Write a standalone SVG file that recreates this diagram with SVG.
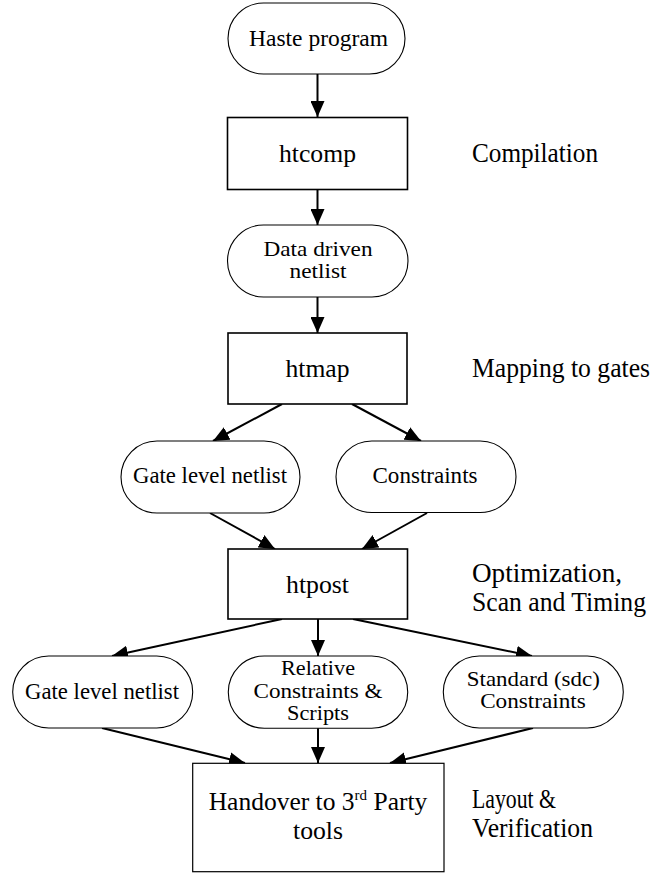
<svg xmlns="http://www.w3.org/2000/svg" width="665" height="873" viewBox="0 0 665 873">
<style>
  .bg { fill: #ffffff; }
  .stad { fill: #ffffff; stroke: #000000; stroke-width: 1.1; }
  .box { fill: #ffffff; stroke: #000000; stroke-width: 1.6; }
  .box2 { fill: #ffffff; stroke: #000000; stroke-width: 1.2; }
  .conn { stroke: #000000; stroke-width: 2; fill: none; marker-end: url(#arrow); }
  text { font-family: "Liberation Serif", Tinos, "Times New Roman", Times, "Nimbus Roman", "Noto Serif", "DejaVu Serif", serif; fill: #000000; }
  .t { font-size: 23px; text-anchor: middle; }
  .tm { font-size: 21px; text-anchor: middle; }
  .tb { font-size: 26px; text-anchor: middle; }
  .lbl { font-size: 28px; text-anchor: start; }
</style>
<defs>
  <marker id="arrow" viewBox="0 0 16 14" refX="16" refY="7" markerWidth="16" markerHeight="14" markerUnits="userSpaceOnUse" orient="auto">
    <path d="M0,0 L16,7 L0,14 z" fill="#000000"/>
  </marker>
</defs>
<rect class="bg" x="0" y="0" width="665" height="873"/>

<g id="connectors">
  <line class="conn" x1="317.5" y1="74" x2="317.5" y2="117"/>
  <line class="conn" x1="317.5" y1="189" x2="317.5" y2="225"/>
  <line class="conn" x1="317.5" y1="297" x2="317.5" y2="333"/>
  <line class="conn" x1="282" y1="404" x2="213" y2="441"/>
  <line class="conn" x1="352" y1="404" x2="421" y2="441"/>
  <line class="conn" x1="210" y1="513" x2="275" y2="549"/>
  <line class="conn" x1="427" y1="513" x2="362" y2="549"/>
  <line class="conn" x1="282" y1="619" x2="112" y2="656"/>
  <line class="conn" x1="318" y1="619" x2="318" y2="656"/>
  <line class="conn" x1="353" y1="619" x2="532" y2="656"/>
  <line class="conn" x1="102" y1="728" x2="245" y2="763"/>
  <line class="conn" x1="318" y1="728" x2="318" y2="763"/>
  <line class="conn" x1="533" y1="728" x2="390" y2="763"/>
</g>

<g id="haste-program">
  <rect class="stad" x="228" y="3" width="177" height="71" rx="35.5" ry="35.5"/>
  <text class="t" x="318.5" y="46" textLength="139" lengthAdjust="spacingAndGlyphs">Haste program</text>
</g>

<g id="htcomp">
  <rect class="box" x="227.5" y="117.5" width="180" height="72"/>
  <text class="tb" x="317.5" y="162" textLength="77" lengthAdjust="spacingAndGlyphs">htcomp</text>
</g>

<g id="label-compilation">
  <text class="lbl" x="472" y="162" textLength="126" lengthAdjust="spacingAndGlyphs">Compilation</text>
</g>

<g id="data-driven-netlist">
  <rect class="stad" x="227.5" y="225" width="180.5" height="72" rx="36" ry="36"/>
  <text class="tm" x="318" y="256" textLength="109" lengthAdjust="spacingAndGlyphs">Data driven</text>
  <text class="tm" x="318" y="278" textLength="57" lengthAdjust="spacingAndGlyphs">netlist</text>
</g>

<g id="htmap">
  <rect class="box" x="228" y="333" width="179" height="71"/>
  <text class="tb" x="317.5" y="377" textLength="64" lengthAdjust="spacingAndGlyphs">htmap</text>
</g>

<g id="label-mapping">
  <text class="lbl" x="472" y="377" textLength="178" lengthAdjust="spacingAndGlyphs">Mapping to gates</text>
</g>

<g id="gate-level-netlist-1">
  <rect class="stad" x="121" y="441" width="179" height="72" rx="36" ry="36"/>
  <text class="t" x="210" y="483" textLength="154" lengthAdjust="spacingAndGlyphs">Gate level netlist</text>
</g>

<g id="constraints-1">
  <rect class="stad" x="336" y="441" width="180" height="71.5" rx="35.75" ry="35.75"/>
  <text class="t" x="425" y="483" textLength="105" lengthAdjust="spacingAndGlyphs">Constraints</text>
</g>

<g id="htpost">
  <rect class="box" x="228" y="549" width="179.5" height="70"/>
  <text class="tb" x="317.5" y="593" textLength="63" lengthAdjust="spacingAndGlyphs">htpost</text>
</g>

<g id="label-optimization">
  <text class="lbl" x="472" y="582" textLength="150" lengthAdjust="spacingAndGlyphs">Optimization,</text>
  <text class="lbl" x="472" y="611" textLength="174" lengthAdjust="spacingAndGlyphs">Scan and Timing</text>
</g>

<g id="gate-level-netlist-2">
  <rect class="stad" x="12.7" y="656" width="180" height="72" rx="36" ry="36"/>
  <text class="t" x="102" y="699" textLength="154" lengthAdjust="spacingAndGlyphs">Gate level netlist</text>
</g>

<g id="relative-constraints">
  <rect class="stad" x="228.3" y="656" width="179.4" height="72.3" rx="36" ry="36"/>
  <text class="tm" x="318" y="675" textLength="74" lengthAdjust="spacingAndGlyphs">Relative</text>
  <text class="tm" x="318" y="698" textLength="129" lengthAdjust="spacingAndGlyphs">Constraints &amp;</text>
  <text class="tm" x="318" y="720" textLength="62" lengthAdjust="spacingAndGlyphs">Scripts</text>
</g>

<g id="standard-constraints">
  <rect class="stad" x="443.3" y="656" width="180" height="72" rx="36" ry="36"/>
  <text class="tm" x="533.3" y="686" textLength="133" lengthAdjust="spacingAndGlyphs">Standard (sdc)</text>
  <text class="tm" x="533" y="708" textLength="105.7" lengthAdjust="spacingAndGlyphs">Constraints</text>
</g>

<g id="handover">
  <rect class="box2" x="192.7" y="763.3" width="251.3" height="108.4"/>
  <text x="318" y="810" font-size="25.5" text-anchor="middle">Handover to 3<tspan font-size="15" dy="-10">rd</tspan><tspan dy="10"> Party</tspan></text>
  <text class="tb" x="318" y="839" textLength="50" lengthAdjust="spacingAndGlyphs">tools</text>
</g>

<g id="label-layout">
  <text class="lbl" x="472" y="808" textLength="84" lengthAdjust="spacingAndGlyphs">Layout &amp;</text>
  <text class="lbl" x="472" y="837" textLength="121" lengthAdjust="spacingAndGlyphs">Verification</text>
</g>
</svg>
